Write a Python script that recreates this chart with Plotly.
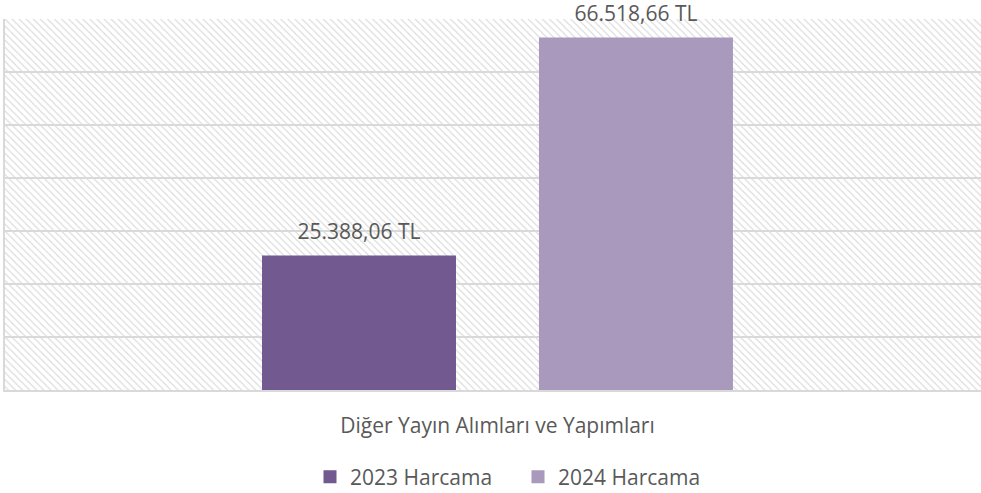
import plotly.graph_objects as go

# ---- data ----
categories = ["Diğer Yayın Alımları ve Yapımları"]
series_names = ["2023 Harcama", "2024 Harcama"]
values_2023 = [25388.06]
values_2024 = [66518.66]
series_values = [values_2023, values_2024]
y_max = 70000
y_step = 10000

# ---- style ----
colors = ["#72598F", "#A99ABD"]
TEXT = "#595959"
GRID = "#D9D9D9"
FONT = "Open Sans"
FS = 21

fig = go.Figure()

# hatched plot-area background
fig.add_trace(go.Bar(
    x=[0.5], y=[y_max], width=[1], xaxis="x", yaxis="y",
    marker=dict(color="rgba(0,0,0,0)", line=dict(width=0),
                pattern=dict(shape="\\", fgcolor="#DADADA", size=5,
                             solidity=0.22, fillmode="replace")),
    showlegend=False, hoverinfo="skip"))

for i, (name, vals, col) in enumerate(zip(series_names, series_values, colors)):
    fig.add_trace(go.Bar(
        x=categories, y=vals, name=name, offsetgroup=str(i),
        marker=dict(color=col, line=dict(width=0)),
        showlegend=False, xaxis="x2", yaxis="y2"))

for i, (name, vals) in enumerate(zip(series_names, series_values)):
    fig.add_trace(go.Scatter(
        x=categories, y=vals, mode="markers+text", offsetgroup=str(i),
        texttemplate="%{y:,.2f} TL", textposition="top center",
        textfont=dict(family=FONT, size=FS, color=TEXT),
        marker=dict(size=17, color="rgba(0,0,0,0)"),
        cliponaxis=False, showlegend=False, hoverinfo="skip",
        xaxis="x2", yaxis="y2"))

# legend entries (square swatches)
for name, col in zip(series_names, colors):
    fig.add_trace(go.Scatter(
        x=[None], y=[None], mode="markers", name=name,
        marker=dict(symbol="square", size=13, color=col),
        xaxis="x", yaxis="y", hoverinfo="skip"))

fig.update_layout(
    width=981, height=493,
    margin=dict(l=5, r=0, t=19, b=103, autoexpand=False),
    paper_bgcolor="white", plot_bgcolor="white",
    separators=",.",
    font=dict(family=FONT, size=FS, color=TEXT),
    barmode="group", bargap=0.4376, bargroupgap=0.2996,
    scattermode="group",
    xaxis=dict(range=[0, 1], visible=False, fixedrange=True),
    yaxis=dict(range=[0, y_max], visible=False, fixedrange=True),
    xaxis2=dict(overlaying="x", type="category", range=[-0.5, 0.4909],
                showline=True, linecolor=GRID, linewidth=1.5,
                ticks="", showgrid=False, ticklabelstandoff=16,
                tickfont=dict(family=FONT, size=FS, color=TEXT)),
    yaxis2=dict(overlaying="y", range=[0, y_max], dtick=y_step,
                showgrid=True, gridcolor=GRID, gridwidth=1.5,
                showticklabels=False, zeroline=False,
                showline=True, linecolor=GRID, linewidth=1.5, mirror=True),
    legend=dict(orientation="h", x=0.3125, xanchor="left", y=-0.2345,
                yanchor="middle", entrywidth=163, entrywidthmode="pixels",
                font=dict(family=FONT, size=FS, color=TEXT)),
    showlegend=True,
)

fig.write_html("out.html", config={"displayModeBar": False},
               post_script="document.body.style.margin='0';")
